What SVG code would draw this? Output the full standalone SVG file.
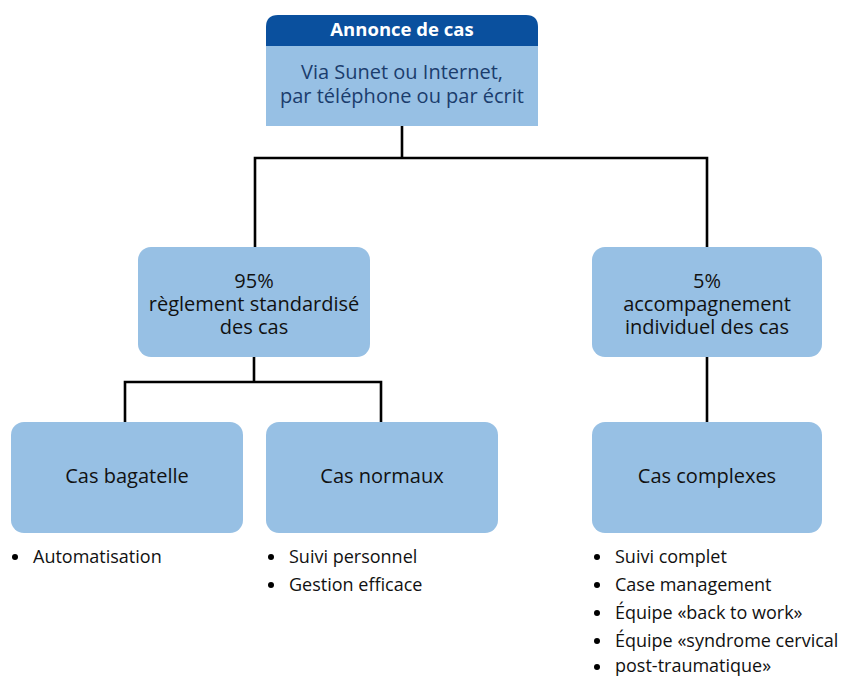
<svg xmlns="http://www.w3.org/2000/svg" width="841" height="677" viewBox="0 0 841 677">
<style>
.box{fill:#97c0e4}
.hdr{fill:#0a509e}
.t{font-family:"Open Sans","Liberation Sans",sans-serif;font-size:20px;fill:#111;text-anchor:middle}
.tb{font-family:"Open Sans","Liberation Sans",sans-serif;font-size:20px;fill:#1b3d6d;text-anchor:middle}
.th{font-family:"Open Sans","Liberation Sans",sans-serif;font-size:18.5px;font-weight:bold;fill:#fff;text-anchor:middle}
.l{font-family:"Open Sans","Liberation Sans",sans-serif;font-size:18px;fill:#111}
.c{fill:none;stroke:#000;stroke-width:2.6}
</style>
<rect width="841" height="677" fill="#fff"/>
<g id="connectors">
<path class="c" d="M402 126V158M255 247V158H707V247"/>
<path class="c" d="M254 357V382M125 422V382H381V422"/>
<path class="c" d="M707 357V422"/>
</g>
<g id="annonce">
<path class="hdr" d="M266 46V27Q266 15 278 15H526Q538 15 538 27V46Z"/>
<rect class="box" x="266" y="46" width="272" height="80"/>
<text class="th" x="402" y="36">Annonce de cas</text>
<text class="tb" x="402" y="79">Via Sunet ou Internet,</text>
<text class="tb" x="402" y="103">par téléphone ou par écrit</text>
</g>
<g id="standard">
<rect class="box" x="138" y="247" width="232" height="110" rx="13"/>
<text class="t" x="254" y="288">95%</text>
<text class="t" x="254" y="311">règlement standardisé</text>
<text class="t" x="254" y="334">des cas</text>
</g>
<g id="individuel">
<rect class="box" x="592" y="247" width="230" height="110" rx="13"/>
<text class="t" x="707" y="288">5%</text>
<text class="t" x="707" y="311">accompagnement</text>
<text class="t" x="707" y="334">individuel des cas</text>
</g>
<g id="bagatelle">
<rect class="box" x="11" y="422" width="232" height="111" rx="13"/>
<text class="t" x="127" y="483">Cas bagatelle</text>
</g>
<g id="normaux">
<rect class="box" x="266" y="422" width="232" height="111" rx="13"/>
<text class="t" x="382" y="483">Cas normaux</text>
</g>
<g id="complexes">
<rect class="box" x="592" y="422" width="230" height="111" rx="13"/>
<text class="t" x="707" y="483">Cas complexes</text>
</g>
<g id="list-bagatelle">
<circle cx="15" cy="557" r="3"/>
<text class="l" x="33" y="563">Automatisation</text>
</g>
<g id="list-normaux">
<circle cx="271" cy="557" r="3"/>
<text class="l" x="289" y="563">Suivi personnel</text>
<circle cx="271" cy="585" r="3"/>
<text class="l" x="289" y="591">Gestion efficace</text>
</g>
<g id="list-complexes">
<circle cx="597" cy="557" r="3"/>
<text class="l" x="615" y="563">Suivi complet</text>
<circle cx="597" cy="585" r="3"/>
<text class="l" x="615" y="591">Case management</text>
<circle cx="597" cy="613" r="3"/>
<text class="l" x="615" y="619">Équipe «back to work»</text>
<circle cx="597" cy="641" r="3"/>
<text class="l" x="615" y="647">Équipe «syndrome cervical</text>
<circle cx="597" cy="667" r="3"/>
<text class="l" x="615" y="672">post-traumatique»</text>
</g>
</svg>
